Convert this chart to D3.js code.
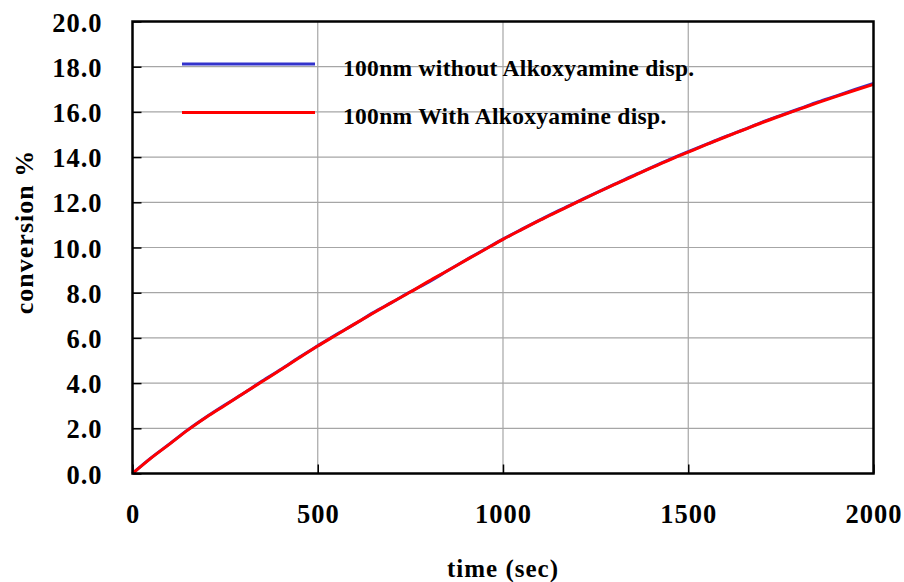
<!DOCTYPE html>
<html>
<head>
<meta charset="utf-8">
<script src="https://cdn.jsdelivr.net/npm/d3@7"></script>
<style>
  html, body { margin: 0; padding: 0; background: #fff; }
  svg { display: block; }
  text { font-family: "Liberation Serif", "Times New Roman", serif; font-weight: bold; fill: #000; }
</style>
</head>
<body>
<svg id="chart" width="904" height="582"></svg>
<script>
// time in seconds (every 50 s)
const times = [0, 50, 100, 150, 200, 250, 300, 350, 400, 450, 500, 550, 600, 650, 700, 750, 800, 850, 900, 950,
  1000, 1050, 1100, 1150, 1200, 1250, 1300, 1350, 1400, 1450, 1500, 1550, 1600, 1650, 1700, 1750, 1800, 1850, 1900, 1950, 2000];

// conversion % without alkoxyamine dispersant
const withoutAlkoxyamine = [0.00, 0.69, 1.31, 1.94, 2.51, 3.04, 3.55, 4.09, 4.60, 5.14, 5.65, 6.15, 6.62, 7.12, 7.57, 8.04, 8.48, 8.97, 9.45, 9.91,
  10.37, 10.80, 11.22, 11.63, 12.02, 12.41, 12.79, 13.17, 13.53, 13.90, 14.24, 14.57, 14.91, 15.22, 15.55, 15.85, 16.14, 16.44, 16.71, 16.99, 17.26];

// conversion % with alkoxyamine dispersant
const withAlkoxyamine = [0.00, 0.68, 1.30, 1.93, 2.50, 3.02, 3.55, 4.07, 4.59, 5.12, 5.64, 6.13, 6.62, 7.10, 7.57, 8.03, 8.51, 8.97, 9.44, 9.90,
  10.36, 10.79, 11.21, 11.61, 12.01, 12.40, 12.78, 13.15, 13.52, 13.88, 14.22, 14.56, 14.89, 15.21, 15.53, 15.83, 16.12, 16.41, 16.69, 16.96, 17.22];

const xTicks = [0, 500, 1000, 1500, 2000];
const yTicks = [0, 2, 4, 6, 8, 10, 12, 14, 16, 18, 20];

const seriesNames = ["100nm without Alkoxyamine disp.", "100nm With Alkoxyamine disp."];
const seriesColors = ["#3333cc", "#ff0000"];

const svg = d3.select("#chart");
const plot = { left: 132.5, top: 21.5, right: 873.5, bottom: 473.5 };

const x = d3.scaleLinear().domain([0, 2000]).range([plot.left, plot.right]);
const y = d3.scaleLinear().domain([0, 20]).range([plot.bottom, plot.top]);

// gridlines
const grid = svg.append("g").attr("stroke", "#a6a6a6").attr("stroke-width", 1.2);
grid.selectAll("line.h").data(yTicks.slice(1, -1)).join("line")
  .attr("x1", plot.left).attr("x2", plot.right)
  .attr("y1", d => y(d)).attr("y2", d => y(d));
grid.selectAll("line.v").data(xTicks.slice(1, -1)).join("line")
  .attr("y1", plot.top).attr("y2", plot.bottom)
  .attr("x1", d => x(d)).attr("x2", d => x(d));

// axes with inward ticks
const yAxis = d3.axisLeft(y).tickValues(yTicks).tickSize(-9).tickFormat(d3.format(".1f")).tickPadding(30);
const xAxis = d3.axisBottom(x).tickValues(xTicks).tickSize(-9).tickFormat(d3.format("d")).tickPadding(44);

const gy = svg.append("g").attr("transform", `translate(${plot.left},0)`).call(yAxis);
const gx = svg.append("g").attr("transform", `translate(0,${plot.bottom})`).call(xAxis);
[gy, gx].forEach(g => {
  g.select(".domain").remove();
  g.selectAll(".tick line").attr("stroke", "#000").attr("stroke-width", 1.5);
  g.selectAll(".tick text")
    .style("font-family", '"Liberation Serif", "Times New Roman", serif')
    .style("font-weight", "bold").style("font-size", "26.5px").style("letter-spacing", "1px").attr("fill", "#000");
});
gy.selectAll(".tick text").attr("dy", "0.36em");
gx.selectAll(".tick text").attr("dy", "0.2em");

// legend
const legend = svg.append("g");
const legendRows = [64, 112.5];
seriesNames.forEach((name, i) => {
  legend.append("line")
    .attr("x1", 182).attr("x2", 315)
    .attr("y1", legendRows[i]).attr("y2", legendRows[i])
    .attr("stroke", seriesColors[i]).attr("stroke-width", 3);
  legend.append("text")
    .attr("x", 343).attr("y", legendRows[i] + 11.5)
    .style("font-size", "23.5px").style("letter-spacing", "0.3px")
    .text(name);
});

// series lines
const line = d3.line().x((d, i) => x(times[i])).y(d => y(d)).curve(d3.curveMonotoneX);
svg.append("path").datum(withoutAlkoxyamine)
  .attr("fill", "none").attr("stroke", seriesColors[0]).attr("stroke-width", 3)
  .attr("stroke-linejoin", "round").attr("d", line);
svg.append("path").datum(withAlkoxyamine)
  .attr("fill", "none").attr("stroke", seriesColors[1]).attr("stroke-width", 3)
  .attr("stroke-linejoin", "round").attr("d", line);

// plot frame
svg.append("rect")
  .attr("x", plot.left).attr("y", plot.top)
  .attr("width", plot.right - plot.left).attr("height", plot.bottom - plot.top)
  .attr("fill", "none").attr("stroke", "#000").attr("stroke-width", 2.5);

// axis titles
svg.append("text")
  .attr("x", 503).attr("y", 577).attr("text-anchor", "middle")
  .style("font-size", "25px").style("letter-spacing", "1px")
  .text("time (sec)");
svg.append("text")
  .attr("transform", "translate(33,232) rotate(-90)").attr("text-anchor", "middle")
  .style("font-size", "26px").style("letter-spacing", "1px")
  .text("conversion %");
</script>
</body>
</html>
